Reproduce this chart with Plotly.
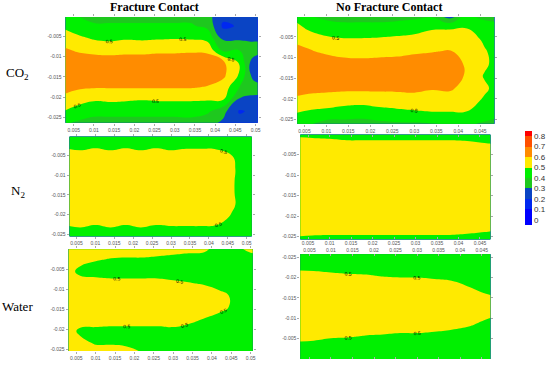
import numpy as np
import plotly.graph_objects as go

# ---------------- data ----------------
X_GRID = [0.002, 0.006, 0.010, 0.014, 0.018, 0.022, 0.026, 0.030, 0.034, 0.038, 0.042, 0.046, 0.050, 0.054]
Y_GRID = [0.0005, -0.0025, -0.0055, -0.0085, -0.0115, -0.0145, -0.0175, -0.0205, -0.0235, -0.0265]

# each inner list = one x column, values from top (y=0) to bottom (y=-0.0265)
CO2_FRACTURE = [
    [0.43, 0.49, 0.56, 0.62, 0.66, 0.67, 0.64, 0.58, 0.505, 0.42],
    [0.39, 0.45, 0.52, 0.59, 0.66, 0.67, 0.62, 0.53, 0.47, 0.38],
    [0.37, 0.41, 0.49, 0.57, 0.66, 0.67, 0.61, 0.51, 0.45, 0.34],
    [0.37, 0.41, 0.48, 0.56, 0.66, 0.67, 0.61, 0.515, 0.45, 0.34],
    [0.37, 0.41, 0.49, 0.57, 0.66, 0.67, 0.61, 0.51, 0.45, 0.34],
    [0.37, 0.41, 0.485, 0.57, 0.66, 0.67, 0.612, 0.505, 0.45, 0.34],
    [0.37, 0.41, 0.49, 0.58, 0.66, 0.67, 0.61, 0.51, 0.45, 0.34],
    [0.37, 0.41, 0.495, 0.58, 0.66, 0.67, 0.61, 0.51, 0.45, 0.34],
    [0.37, 0.41, 0.49, 0.585, 0.66, 0.67, 0.61, 0.51, 0.45, 0.35],
    [0.33, 0.38, 0.47, 0.58, 0.66, 0.66, 0.595, 0.51, 0.42, 0.33],
    [0.24, 0.18, 0.28, 0.38, 0.62, 0.62, 0.56, 0.51, 0.33, 0.28],
    [0.21, 0.21, 0.28, 0.40, 0.49, 0.49, 0.40, 0.29, 0.19, 0.24],
    [0.29, 0.28, 0.27, 0.38, 0.20, 0.22, 0.36, 0.27, 0.22, 0.25],
    [0.38, 0.36, 0.31, 0.37, 0.22, 0.24, 0.36, 0.28, 0.25, 0.27],
]
CO2_NO_FRACTURE = [
    [0.47, 0.55, 0.585, 0.635, 0.67, 0.67, 0.64, 0.585, 0.505, 0.44],
    [0.39, 0.47, 0.56, 0.61, 0.67, 0.67, 0.63, 0.56, 0.48, 0.40],
    [0.37, 0.43, 0.52, 0.58, 0.66, 0.67, 0.625, 0.545, 0.47, 0.34],
    [0.36, 0.42, 0.505, 0.565, 0.635, 0.66, 0.62, 0.535, 0.45, 0.35],
    [0.36, 0.42, 0.505, 0.56, 0.63, 0.66, 0.62, 0.53, 0.44, 0.35],
    [0.36, 0.42, 0.51, 0.565, 0.635, 0.66, 0.62, 0.54, 0.46, 0.36],
    [0.36, 0.43, 0.52, 0.57, 0.64, 0.66, 0.62, 0.55, 0.47, 0.37],
    [0.36, 0.45, 0.53, 0.585, 0.65, 0.66, 0.62, 0.56, 0.48, 0.37],
    [0.37, 0.48, 0.55, 0.595, 0.65, 0.66, 0.605, 0.565, 0.49, 0.38],
    [0.20, 0.48, 0.56, 0.605, 0.65, 0.66, 0.61, 0.565, 0.49, 0.39],
    [0.39, 0.49, 0.55, 0.57, 0.585, 0.585, 0.575, 0.55, 0.49, 0.40],
    [0.38, 0.42, 0.48, 0.51, 0.52, 0.49, 0.52, 0.48, 0.44, 0.38],
    [0.38, 0.41, 0.43, 0.44, 0.44, 0.44, 0.44, 0.43, 0.41, 0.38],
    [0.38, 0.41, 0.43, 0.44, 0.44, 0.44, 0.44, 0.43, 0.41, 0.38],
]
N2_FRACTURE = [
    [0.45, 0.485, 0.555, 0.56, 0.56, 0.56, 0.56, 0.55, 0.48, 0.45],
    [0.45, 0.465, 0.555, 0.56, 0.56, 0.56, 0.56, 0.55, 0.495, 0.45],
    [0.45, 0.485, 0.555, 0.56, 0.56, 0.56, 0.56, 0.55, 0.48, 0.45],
    [0.45, 0.465, 0.555, 0.56, 0.56, 0.56, 0.56, 0.55, 0.495, 0.45],
    [0.45, 0.485, 0.555, 0.56, 0.56, 0.56, 0.56, 0.55, 0.48, 0.45],
    [0.45, 0.465, 0.555, 0.56, 0.56, 0.56, 0.56, 0.55, 0.495, 0.45],
    [0.45, 0.485, 0.555, 0.56, 0.56, 0.56, 0.56, 0.55, 0.48, 0.45],
    [0.45, 0.465, 0.555, 0.56, 0.56, 0.56, 0.56, 0.55, 0.487, 0.45],
    [0.45, 0.48, 0.555, 0.56, 0.56, 0.56, 0.56, 0.55, 0.487, 0.45],
    [0.45, 0.48, 0.555, 0.56, 0.56, 0.56, 0.56, 0.55, 0.487, 0.45],
    [0.45, 0.475, 0.555, 0.56, 0.56, 0.56, 0.56, 0.55, 0.48, 0.45],
    [0.44, 0.46, 0.51, 0.52, 0.515, 0.515, 0.52, 0.49, 0.45, 0.44],
    [0.44, 0.44, 0.44, 0.44, 0.44, 0.44, 0.44, 0.44, 0.44, 0.44],
    [0.44, 0.44, 0.44, 0.44, 0.44, 0.44, 0.44, 0.44, 0.44, 0.44],
]
N2_NO_FRACTURE = [
    [0.46, 0.56, 0.56, 0.56, 0.56, 0.56, 0.56, 0.56, 0.54, 0.46],
    [0.45, 0.555, 0.56, 0.56, 0.56, 0.56, 0.56, 0.56, 0.535, 0.45],
    [0.44, 0.55, 0.56, 0.56, 0.56, 0.56, 0.56, 0.56, 0.53, 0.45],
    [0.42, 0.54, 0.56, 0.56, 0.56, 0.56, 0.56, 0.56, 0.53, 0.45],
    [0.42, 0.54, 0.56, 0.56, 0.56, 0.56, 0.56, 0.56, 0.53, 0.45],
    [0.42, 0.54, 0.56, 0.56, 0.56, 0.56, 0.56, 0.56, 0.53, 0.45],
    [0.42, 0.54, 0.56, 0.56, 0.56, 0.56, 0.56, 0.56, 0.53, 0.45],
    [0.42, 0.54, 0.56, 0.56, 0.56, 0.56, 0.56, 0.56, 0.53, 0.45],
    [0.42, 0.54, 0.56, 0.56, 0.56, 0.56, 0.56, 0.56, 0.53, 0.45],
    [0.42, 0.54, 0.56, 0.56, 0.56, 0.56, 0.56, 0.56, 0.53, 0.45],
    [0.42, 0.53, 0.56, 0.56, 0.56, 0.56, 0.56, 0.56, 0.52, 0.45],
    [0.42, 0.51, 0.55, 0.56, 0.56, 0.56, 0.56, 0.55, 0.51, 0.44],
    [0.42, 0.495, 0.54, 0.55, 0.55, 0.55, 0.55, 0.54, 0.495, 0.44],
    [0.42, 0.495, 0.54, 0.55, 0.55, 0.55, 0.55, 0.54, 0.495, 0.44],
]
WATER_FRACTURE = [
    [0.56, 0.56, 0.56, 0.56, 0.56, 0.56, 0.56, 0.56, 0.56, 0.56],
    [0.55, 0.54, 0.47, 0.55, 0.56, 0.56, 0.55, 0.48, 0.53, 0.55],
    [0.56, 0.51, 0.45, 0.55, 0.56, 0.56, 0.56, 0.47, 0.49, 0.56],
    [0.56, 0.495, 0.44, 0.54, 0.56, 0.56, 0.56, 0.46, 0.49, 0.56],
    [0.56, 0.49, 0.44, 0.54, 0.56, 0.56, 0.56, 0.46, 0.48, 0.55],
    [0.56, 0.49, 0.44, 0.54, 0.56, 0.56, 0.56, 0.46, 0.45, 0.51],
    [0.56, 0.48, 0.44, 0.54, 0.56, 0.56, 0.56, 0.46, 0.44, 0.44],
    [0.55, 0.47, 0.44, 0.52, 0.56, 0.56, 0.56, 0.47, 0.44, 0.44],
    [0.54, 0.46, 0.44, 0.505, 0.56, 0.56, 0.54, 0.44, 0.44, 0.44],
    [0.535, 0.45, 0.44, 0.49, 0.56, 0.56, 0.495, 0.44, 0.44, 0.44],
    [0.45, 0.44, 0.44, 0.44, 0.54, 0.54, 0.45, 0.44, 0.44, 0.44],
    [0.47, 0.44, 0.44, 0.44, 0.47, 0.47, 0.44, 0.44, 0.44, 0.44],
    [0.55, 0.44, 0.44, 0.44, 0.44, 0.44, 0.44, 0.44, 0.44, 0.44],
    [0.55, 0.44, 0.44, 0.44, 0.44, 0.44, 0.44, 0.44, 0.44, 0.44],
]
WATER_NO_FRACTURE = [
    [0.43, 0.44, 0.54, 0.56, 0.56, 0.56, 0.56, 0.54, 0.44, 0.43],
    [0.43, 0.44, 0.53, 0.56, 0.56, 0.56, 0.56, 0.53, 0.45, 0.43],
    [0.43, 0.44, 0.51, 0.56, 0.56, 0.56, 0.56, 0.52, 0.44, 0.43],
    [0.43, 0.44, 0.505, 0.55, 0.56, 0.56, 0.55, 0.51, 0.44, 0.43],
    [0.43, 0.44, 0.495, 0.55, 0.56, 0.56, 0.55, 0.505, 0.44, 0.43],
    [0.43, 0.44, 0.49, 0.55, 0.56, 0.56, 0.55, 0.495, 0.44, 0.43],
    [0.43, 0.44, 0.48, 0.55, 0.56, 0.56, 0.55, 0.49, 0.44, 0.43],
    [0.43, 0.44, 0.48, 0.55, 0.56, 0.56, 0.55, 0.49, 0.44, 0.43],
    [0.43, 0.44, 0.47, 0.545, 0.56, 0.56, 0.55, 0.48, 0.44, 0.43],
    [0.43, 0.44, 0.46, 0.53, 0.55, 0.55, 0.54, 0.47, 0.44, 0.43],
    [0.43, 0.44, 0.45, 0.51, 0.54, 0.54, 0.505, 0.45, 0.44, 0.43],
    [0.43, 0.44, 0.44, 0.48, 0.53, 0.53, 0.47, 0.44, 0.44, 0.43],
    [0.43, 0.44, 0.44, 0.45, 0.51, 0.51, 0.45, 0.44, 0.44, 0.43],
    [0.43, 0.44, 0.44, 0.44, 0.49, 0.49, 0.44, 0.44, 0.44, 0.43],
]

COLUMN_TITLES = ["Fracture Contact", "No Fracture Contact"]
ROW_TITLES = ["CO<sub>2</sub>", "N<sub>2</sub>", "Water"]

X_TICKS = [0.005, 0.01, 0.015, 0.02, 0.025, 0.03, 0.035, 0.04, 0.045, 0.05]
X_TICK_LABELS = ["0.005", "0.01", "0.015", "0.02", "0.025", "0.03", "0.035", "0.04", "0.045", "0.05"]
Y_TICKS = [-0.005, -0.01, -0.015, -0.02, -0.025]
Y_TICK_LABELS = ["-0.005", "-0.01", "-0.015", "-0.02", "-0.025"]
LEVEL_TICKS = [0, 0.1, 0.2, 0.3, 0.4, 0.5, 0.6, 0.7, 0.8]
LEVEL_COLORS = ["#0000ff", "#0000ff", "#0028f0", "#0a44c4", "#1ec81e",
                "#00f000", "#ffea00", "#ff8c00", "#ff5000", "#ff0000"]

# ---------------- styling ----------------
W, H = 550, 369
colorscale = [[k / 9, c] for k, c in enumerate(LEVEL_COLORS)]

# panel boxes in pixels: (left, top, right, bottom); label windows = grid index windows (c0, c1, r0, r1)
PANELS = [
    dict(z=CO2_FRACTURE, box=(66, 17, 259, 123), xr=[0.003, 0.0505], yr=[-0.0263, -0.00025],
         windows=[(0, 5, 0, 10), (5, 10, 0, 10), (9, 13, 2, 8)]),
    dict(z=CO2_NO_FRACTURE, box=(299, 17, 497, 124), xr=[0.0034, 0.0482], yr=[-0.026, -0.0002],
         windows=[(1, 4, 0, 5), (5, 9, 5, 10)]),
    dict(z=N2_FRACTURE, box=(70, 137, 253, 237), xr=[0.0032, 0.0513], yr=[-0.0255, -0.0002],
         windows=[(9, 14, 0, 5), (9, 14, 5, 10)]),
    dict(z=N2_NO_FRACTURE, box=(302, 135, 493, 240), xr=[0.0032, 0.0474], yr=[-0.0257, -0.0001],
         windows=[], inside=True),
    dict(z=WATER_FRACTURE, box=(69, 250, 254, 352), xr=[0.003, 0.0505], yr=[-0.0255, 0.0],
         windows=[(1, 5, 2, 5), (5, 9, 2, 5), (9, 13, 3, 7), (2, 6, 5, 8), (6, 10, 5, 8)]),
    dict(z=WATER_NO_FRACTURE, box=(302, 255, 493, 360), xr=[0.0029, 0.047], yr=[0.0, -0.0257],
         top=True, inside=True,
         windows=[(1, 5, 0, 5), (5, 9, 0, 5), (9, 14, 0, 5), (1, 5, 5, 10), (5, 9, 5, 10), (9, 14, 5, 10)]),
]

sans = "Liberation Sans, Arial, sans-serif"
tickfont = dict(family=sans, size=5, color="#555555")
fig = go.Figure()
layout = dict(width=W, height=H, margin=dict(l=0, r=0, t=0, b=0),
              paper_bgcolor="white", plot_bgcolor="white", showlegend=False)

xg = np.array(X_GRID)
yg = np.array(Y_GRID)
for i, p in enumerate(PANELS):
    n = "" if i == 0 else str(i + 1)
    z = np.array(p["z"]).T
    l, t, r, b = p["box"]
    top = p.get("top", False)
    layout["xaxis" + n] = dict(
        domain=[l / W, r / W], range=p["xr"], anchor="y" + n,
        tickvals=X_TICKS, ticktext=X_TICK_LABELS, tickfont=tickfont,
        ticks="inside" if p.get("inside") else "outside", ticklen=2, tickcolor="#aaaaaa", mirror="ticks",
        showgrid=False, zeroline=False, showline=False,
        side="top" if top else "bottom",
    )
    layout["yaxis" + n] = dict(
        domain=[1 - b / H, 1 - t / H], range=p["yr"], anchor="x" + n,
        tickvals=Y_TICKS, ticktext=Y_TICK_LABELS, tickfont=tickfont,
        ticks="outside", ticklen=2, tickcolor="#aaaaaa", mirror="ticks",
        showgrid=False, zeroline=False, showline=False,
    )
    fig.add_trace(go.Contour(
        x=X_GRID, y=Y_GRID, z=z, xaxis="x" + n, yaxis="y" + n,
        autocontour=False,
        contours=dict(start=0, end=0.8, size=0.1, coloring="fill", showlines=False),
        line=dict(width=0, smoothing=1.3),
        colorscale=colorscale, hoverinfo="skip",
        showscale=(i == 0),
        colorbar=dict(
            x=528 / W, xanchor="left", y=1 - 178.5 / H, yanchor="middle",
            len=94 / H, lenmode="fraction", thickness=7, thicknessmode="pixels",
            tickvals=LEVEL_TICKS, ticks="", outlinewidth=0, xpad=0, ypad=0,
            tickfont=dict(family=sans, size=8, color="#333333"),
        ),
    ))
    # "0.5" contour labels, one window of the grid at a time
    for (c0, c1, r0, r1) in p["windows"]:
        fig.add_trace(go.Contour(
            x=xg[c0:c1 + 1], y=yg[r0:r1 + 1], z=z[r0:r1 + 1, c0:c1 + 1],
            xaxis="x" + n, yaxis="y" + n,
            autocontour=False, showscale=False, hoverinfo="skip",
            contours=dict(start=0.5, end=0.5, size=0.1, coloring="none",
                          showlabels=True, labelformat=".1f",
                          labelfont=dict(family=sans, size=5, color="black")),
            line=dict(color="rgba(0,0,0,0)", width=1, smoothing=1.3),
        ))

annotations = []
serif = "Liberation Serif, Times New Roman, serif"
for txt, cx in zip(COLUMN_TITLES, [155, 391]):
    annotations.append(dict(text="<b>" + txt + "</b>", x=cx / W, y=1 - 7 / H, xref="paper", yref="paper",
                            showarrow=False, xanchor="center", yanchor="middle",
                            font=dict(family=serif, size=12, color="black")))
for txt, cy in zip(ROW_TITLES, [74, 192, 307]):
    annotations.append(dict(text=txt, x=18 / W, y=1 - cy / H, xref="paper", yref="paper",
                            showarrow=False, xanchor="center", yanchor="middle",
                            font=dict(family=serif, size=13, color="black")))
layout["annotations"] = annotations
fig.update_layout(**layout)
fig.write_html("out.html", config={"displayModeBar": False},
               post_script="document.body.style.margin='0px';")
